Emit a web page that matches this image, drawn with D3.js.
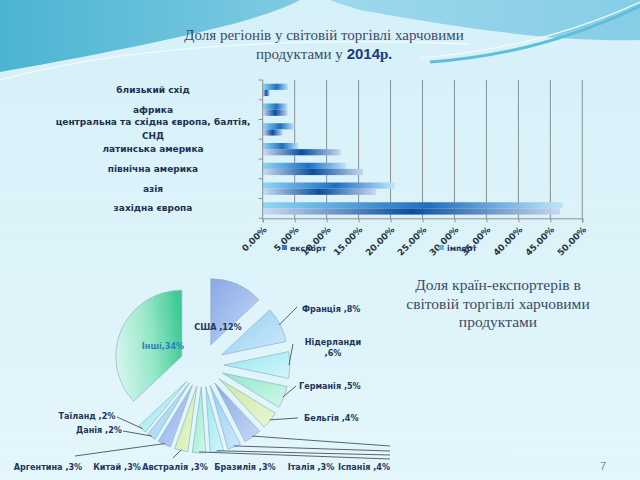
<!DOCTYPE html>
<html><head><meta charset="utf-8">
<script src="https://cdn.jsdelivr.net/npm/d3@7"></script>
<style>html,body{margin:0;padding:0;background:#dcf2fa;}svg{display:block}</style>
</head><body><svg id="c" width="640" height="480"></svg>
<script>
// ---------- DATA ----------
const regions = ["близький схід","африка","центральна та східна європа, балтія,\nСНД","латинська америка","північна америка","азія","західна європа"];
const exportShare = [1.1, 3.9, 3.1, 12.2, 15.7, 17.7, 46.5];
const importShare = [4.0, 3.9, 4.95, 5.6, 13.1, 20.7, 47.0];
const seriesNames = ["експорт","імпорт"];
const xTickValues = [0,5,10,15,20,25,30,35,40,45,50];

const countries = ["США","Франція","Нідерланди","Германія","Бельгія","Іспанія","Італія","Бразилія","Австралія","Китай","Аргентина","Данія","Таїланд","Інші"];
const countryShare = [12,8,6,5,4,4,3,3,3,3,3,2,2,34];

const title1a = "Доля регіонів у світовій торгівлі харчовими";
const title1b = "продуктами у ";
const title1year = "2014";
const title1c = "р.";
const title2 = ["Доля країн-експортерів в","світовій торгівлі харчовими","продуктами"];
const pageNum = "7";

// ---------- LAYOUT ----------
const svg = d3.select("#c");
const defs = svg.append("defs");

function linGrad(id, stops, x1="0%", y1="0%", x2="100%", y2="0%", units) {
  const g = defs.append("linearGradient").attr("id", id)
    .attr("x1", x1).attr("y1", y1).attr("x2", x2).attr("y2", y2);
  if (units) g.attr("gradientUnits", units);
  stops.forEach(s => g.append("stop").attr("offset", s[0]).attr("stop-color", s[1]));
  return `url(#${id})`;
}

// background
svg.append("rect").attr("width",640).attr("height",480)
  .attr("fill", linGrad("bg", [["0%","#d6f0f9"],["100%","#e3f6fb"]], "0%","0%","0%","100%"));
// top decoration
svg.append("path").attr("d","M0,0 L640,0 L640,40 C560,42 470,30 360,10 C340,4 330,0 330,0 Z")
  .attr("fill", linGrad("topR", [["0%","#b6e3f2"],["100%","#86cde6"]]));
svg.append("path").attr("d","M0,0 L300,0 C260,22 150,45 0,72 Z")
  .attr("fill", linGrad("topL", [["0%","#4bb4d1"],["100%","#7fcbe2"]]));
svg.append("path").attr("d","M0,80 C110,50 260,36 470,44").attr("fill","none")
  .attr("stroke","#f2fbfe").attr("stroke-width",1.4);
svg.append("path").attr("d","M430,62 C520,56 590,30 640,6").attr("fill","none")
  .attr("stroke","#5cc0da").attr("stroke-width",3);
svg.append("path").attr("d","M420,58 C520,50 590,25 640,2").attr("fill","none")
  .attr("stroke","#f2fbfe").attr("stroke-width",1.2);

// titles
const titleColor = "#3c4a68";
svg.append("text").attr("x",324).attr("y",40).attr("text-anchor","middle")
  .attr("font-family","Liberation Serif").attr("font-size",15).attr("fill",titleColor).text(title1a);
const t1 = svg.append("text").attr("x",324).attr("y",59).attr("text-anchor","middle")
  .attr("font-family","Liberation Serif").attr("font-size",15).attr("fill",titleColor);
t1.append("tspan").text(title1b);
t1.append("tspan").attr("font-family","Liberation Sans").attr("font-weight","bold").attr("fill","#1f3a86").text(title1year);
t1.append("tspan").attr("fill","#1f3a86").attr("font-weight","bold").text(title1c);

title2.forEach((t,i) => svg.append("text").attr("x",498).attr("y",290+i*18.5).attr("text-anchor","middle")
  .attr("font-family","Liberation Serif").attr("font-size",15.5).attr("fill",titleColor).text(t));

svg.append("text").attr("x",603).attr("y",470).attr("text-anchor","middle")
  .attr("font-family","Liberation Sans").attr("font-size",11).attr("fill","#7a8a94").text(pageNum);

// ---------- BAR CHART ----------
const plot = {l:262.7, r:582.3, t:80, b:218.3};
const x = d3.scaleLinear().domain([0,50]).range([plot.l, plot.r]);
const y = d3.scaleBand().domain(regions).range([plot.t, plot.b]);
const y1 = d3.scaleBand().domain(["імпорт","експорт"]).range([0, y.bandwidth()]).paddingOuter(0.6);

const bar = svg.append("g");
// gridlines
bar.selectAll("line.grid").data(xTickValues.slice(1)).join("line")
  .attr("x1", d=>x(d)).attr("x2", d=>x(d)).attr("y1", plot.t).attr("y2", plot.b)
  .attr("stroke","#8a8f94").attr("stroke-width",1);

const gImp = linGrad("gImp", [["0%","#8ed6f5"],["55%","#1f6fc0"],["100%","#bfe6fa"]]);
const gExp = linGrad("gExp", [["0%","#cddbef"],["50%","#0a4e9e"],["100%","#c7d8ee"]]);

const rows = regions.map((r,i) => ({r, exp: exportShare[i], imp: importShare[i]}));
rows.forEach(d => {
  bar.append("rect").attr("x", x(0)).attr("y", y(d.r)+y1("імпорт"))
    .attr("width", x(d.imp)-x(0)).attr("height", y1.bandwidth()).attr("fill", gImp);
  bar.append("rect").attr("x", x(0)).attr("y", y(d.r)+y1("експорт"))
    .attr("width", x(d.exp)-x(0)).attr("height", y1.bandwidth()).attr("fill", gExp);
});

// axes
const xAxis = d3.axisBottom(x).tickValues(xTickValues).tickSize(4).tickFormat(d => d3.format(".2%")(d/100));
const gx = bar.append("g").attr("transform",`translate(0,${plot.b})`).call(xAxis);
gx.select(".domain").attr("stroke","#8a8f94");
gx.selectAll(".tick line").attr("stroke","#8a8f94");
gx.selectAll(".tick text")
  .attr("font-family","DejaVu Sans").attr("font-weight","bold").attr("font-size",8.8).attr("fill","#2d3440")
  .attr("text-anchor","end").attr("dy",null).attr("y",0)
  .attr("transform","translate(4,12) rotate(-45)");

const yEdges = regions.map(r => y(r)).concat([plot.b]);
const ga = bar.append("g");
ga.append("line").attr("x1",plot.l).attr("x2",plot.l).attr("y1",plot.t).attr("y2",plot.b).attr("stroke","#8a8f94");
ga.selectAll("line.t").data(yEdges).join("line").attr("class","t")
  .attr("x1",plot.l-4).attr("x2",plot.l).attr("y1",d=>d).attr("y2",d=>d).attr("stroke","#8a8f94");

// category labels
regions.forEach(r => {
  const lines = r.split("\n");
  const cy = y(r) + y.bandwidth()/2;
  const tx = bar.append("text").attr("x",153).attr("text-anchor","middle")
    .attr("font-family","DejaVu Sans").attr("font-weight","bold").attr("font-size",9).attr("fill","#1e3054");
  const n = lines.length;
  lines.forEach((ln,k) => tx.append("tspan").attr("x",153)
    .attr("y", cy + 3 + (k - (n-1)/2)*14).text(ln));
});

// legend
const legX = [285, 442];
const legFill = ["#3f73b8","#5fb6e6"];
seriesNames.forEach((s,i) => {
  bar.append("rect").attr("x",legX[i]-3).attr("y",245).attr("width",5).attr("height",5).attr("fill",legFill[i]);
  bar.append("text").attr("x",legX[i]+5).attr("y",251)
    .attr("font-family","DejaVu Sans").attr("font-weight","bold").attr("font-size",7.8).attr("fill","#22355a").text(s);
});

// ---------- PIE ----------
const C = {x:202, y:365};
const R = 66, EXPL = 22;
const pie = d3.pie().sort(null).value(d => d)(countryShare);
const arc = d3.arc().innerRadius(0).outerRadius(R);
const pal = [["#88a8e6","#c6d8f7"],["#94cdf1","#cdeafb"],["#98e6f0","#d2f7fa"],["#8fe8c8","#d2f8ea"],["#c9e9a0","#eaf7d2"]];
const pieG = svg.append("g");
pie.forEach((p,i) => {
  const mid = (p.startAngle + p.endAngle)/2;
  const dx = Math.sin(mid)*EXPL, dy = -Math.cos(mid)*EXPL;
  let fill;
  if (i === countries.length-1) {
    fill = linGrad("pg"+i, [["0%","#d6f6ec"],["55%","#93e6c6"],["100%","#3fca95"]], "0%","60%","100%","40%");
  } else {
    const c = pal[i % pal.length];
    fill = linGrad("pg"+i, [["0%",c[0]],["100%",c[1]]], "0%","0%","100%","100%");
  }
  pieG.append("path").attr("d", arc(p)).attr("transform",`translate(${C.x+dx},${C.y+dy})`)
    .attr("fill", fill).attr("stroke","#8fb3c9").attr("stroke-width",0.7);
});

// pie labels
const pieLabelLayout = [
  {x:218,y:330,anchor:"middle"},
  {x:302,y:312,anchor:"start",lx:297,ly:307},
  {x:333,y:345,anchor:"middle",wrap:true,lx:293,ly:344},
  {x:299,y:389,anchor:"start",lx:296,ly:386},
  {x:304,y:421,anchor:"start",lx:298,ly:418},
  {x:364,y:470,anchor:"middle",lx:390,ly:446},
  {x:311,y:470,anchor:"middle",lx:390,ly:451},
  {x:245,y:470,anchor:"middle",lx:390,ly:455},
  {x:175,y:470,anchor:"middle",lx:390,ly:459},
  {x:117,y:470,anchor:"middle",lx:173,ly:458},
  {x:48,y:470,anchor:"middle",lx:75,ly:456},
  {x:99,y:433,anchor:"middle",lx:123,ly:431},
  {x:87,y:419,anchor:"middle",lx:117,ly:417},
  {x:163,y:349,anchor:"middle",sep:",",color:"#2f7fbf"}
];
const lineG = svg.append("g");
const labG = svg.append("g");
pie.forEach((p,i) => {
  const L = pieLabelLayout[i];
  const mid = (p.startAngle + p.endAngle)/2;
  const txt = countries[i] + (L.sep || " ,") + countryShare[i] + "%";
  if (L.lx !== undefined) {
    const sx = C.x + Math.sin(mid)*(R+EXPL-1), sy = C.y - Math.cos(mid)*(R+EXPL-1);
    lineG.append("line").attr("x1",sx).attr("y1",sy).attr("x2",L.lx).attr("y2",L.ly)
      .attr("stroke","#4a5260").attr("stroke-width",0.9);
  }
  const t = labG.append("text").attr("text-anchor",L.anchor)
    .attr("font-family","DejaVu Sans").attr("font-weight","bold").attr("font-size",8.1)
    .attr("fill", L.color || "#22355a");
  if (L.wrap) {
    t.append("tspan").attr("x",L.x).attr("y",L.y).text(countries[i]);
    t.append("tspan").attr("x",L.x).attr("y",L.y+11).text(","+countryShare[i]+"%");
  } else {
    t.attr("x",L.x).attr("y",L.y).text(txt);
  }
});
</script></body></html>
